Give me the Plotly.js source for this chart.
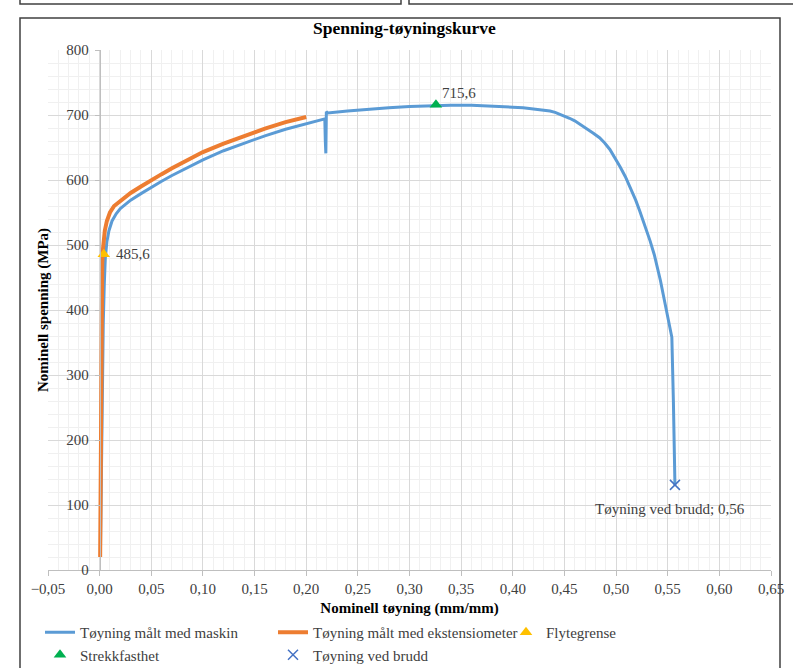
<!DOCTYPE html>
<html>
<head>
<meta charset="utf-8">
<script src="https://cdn.plot.ly/plotly-3.0.1.min.js"></script>
<style>html,body{margin:0;padding:0;background:#fff;}</style>
</head>
<body>
<div id="chart" style="width:793px;height:668px;"></div>
<script>
// ---- Data ----
const machineStrain = [0.0008, 0.0015, 0.0025, 0.0035, 0.0045, 0.0055, 0.007, 0.009, 0.012, 0.016, 0.02, 0.03, 0.04, 0.05, 0.06, 0.07, 0.08, 0.09, 0.10, 0.12, 0.14, 0.16, 0.18, 0.20, 0.218, 0.2185, 0.219, 0.2195, 0.221, 0.24, 0.26, 0.28, 0.30, 0.32, 0.34, 0.36, 0.38, 0.40, 0.41, 0.42, 0.428, 0.436, 0.441, 0.446, 0.451, 0.455, 0.460, 0.464, 0.468, 0.472, 0.478, 0.484, 0.489, 0.494, 0.499, 0.504, 0.509, 0.514, 0.519, 0.523, 0.528, 0.533, 0.537, 0.540, 0.543, 0.5455, 0.548, 0.550, 0.552, 0.554, 0.5555, 0.5565, 0.557];
const machineStress = [30, 150, 280, 380, 440, 480, 505, 522, 537, 548, 556, 569, 579, 589, 598, 607, 615, 623, 631, 645, 657, 668, 678, 687, 694, 660, 641, 705, 703, 706, 709, 711, 713, 714.5, 715, 715, 714, 712, 711, 709, 708, 706, 704, 701, 698, 695, 691, 687, 683, 678, 672, 665, 657, 647, 634, 620, 605, 588, 569, 552, 530, 506, 485, 466, 445, 425, 404, 390, 375, 358, 260, 190, 131];

const extStrain = [0.0005, 0.0008, 0.0012, 0.0016, 0.002, 0.0025, 0.003, 0.004, 0.005, 0.007, 0.01, 0.014, 0.02, 0.03, 0.04, 0.05, 0.06, 0.07, 0.08, 0.09, 0.10, 0.12, 0.14, 0.16, 0.18, 0.20];
const extStress = [20, 120, 250, 360, 430, 470, 490, 510, 522, 537, 550, 560, 568, 580, 590, 600, 609, 618, 626, 635, 643, 656, 668, 679, 689, 697];

const yieldStrain = [0.004];
const yieldStress = [485.6];
const tensileStrain = [0.3256];
const tensileStress = [715.6];
const fractureStrain = [0.557];
const fractureStress = [131];

const seriesNames = ['Tøyning målt med maskin', 'Tøyning målt med ekstensiometer', 'Flytegrense', 'Strekkfasthet', 'Tøyning ved brudd'];

// ---- Helpers for layout-only positions (pixels -> paper) ----
const ML = 48, MR = 22, MT = 50, MB = 98, W = 793, H = 668;
const PW = W - ML - MR, PH = H - MT - MB;
const px = v => (v - ML) / PW;
const py = v => (H - MB - v) / PH;

const FONT = 'Liberation Serif, DejaVu Serif, serif';
const TXT = '#404040';
const fmt = v => v.toFixed(1).replace('.', ',');
const fmt2 = v => v.toFixed(2).replace('.', ',');

const traces = [
  {x: machineStrain, y: machineStress, mode: 'lines', name: seriesNames[0],
   line: {color: '#5B9BD5', width: 3}},
  {x: extStrain, y: extStress, mode: 'lines', name: seriesNames[1],
   line: {color: '#ED7D31', width: 4}},
  {x: yieldStrain, y: yieldStress, mode: 'markers', name: seriesNames[2],
   marker: {symbol: 'triangle-up', color: '#FFC000', size: 11}},
  {x: tensileStrain, y: tensileStress, mode: 'markers', name: seriesNames[3],
   marker: {symbol: 'triangle-up', color: '#00B050', size: 11}},
  {x: fractureStrain, y: fractureStress, mode: 'markers', name: seriesNames[4],
   marker: {symbol: 'x-thin', size: 10, line: {color: '#4472C4', width: 1.5}}}
];

const labelFont = {family: FONT, size: 15, color: TXT};
const annotations = [
  {x: yieldStrain[0], y: yieldStress[0], xref: 'x', yref: 'y', text: fmt(yieldStress[0]),
   showarrow: false, xanchor: 'left', yanchor: 'middle', xshift: 10, font: labelFont},
  {x: tensileStrain[0], y: tensileStress[0], xref: 'x', yref: 'y', text: fmt(tensileStress[0]),
   showarrow: false, xanchor: 'left', yanchor: 'bottom', xshift: 4, yshift: 2, font: labelFont},
  {x: fractureStrain[0], y: fractureStress[0], xref: 'x', yref: 'y', text: 'Tøyning ved brudd; ' + fmt2(fractureStrain[0]),
   showarrow: false, xanchor: 'center', yanchor: 'middle', xshift: -5, yshift: -24, font: labelFont}
];

const layout = {
  width: W, height: H,
  margin: {l: ML, r: MR, t: MT, b: MB, autoexpand: false},
  paper_bgcolor: '#ffffff', plot_bgcolor: '#ffffff',
  separators: ', ',
  font: {family: FONT, size: 15, color: TXT},
  title: {text: '<b>Spenning-tøyningskurve</b>', x: 0.51, xanchor: 'center', y: 1 - 28 / H, yanchor: 'middle',
          font: {family: FONT, size: 17.5, color: '#000000'}},
  showlegend: true,
  legend: {orientation: 'h', x: px(40), xanchor: 'left', y: py(616), yanchor: 'top',
           entrywidth: 188, entrywidthmode: 'pixels', traceorder: 'normal', tracegroupgap: 0,
           font: {family: FONT, size: 15, color: TXT}, bgcolor: 'rgba(0,0,0,0)'},
  annotations: annotations,
  xaxis: {
    range: [-0.05, 0.65], dtick: 0.05, tick0: 0, tickformat: '.2f',
    showgrid: true, gridcolor: '#d9d9d9', gridwidth: 1,
    minor: {dtick: 0.01, tick0: 0, showgrid: true, gridcolor: '#f0f0f0', gridwidth: 1},
    zeroline: false, showline: true, linecolor: '#bfbfbf', linewidth: 1,
    ticks: 'outside', ticklen: 5, tickcolor: '#bfbfbf',
    tickfont: {family: FONT, size: 15, color: TXT},
    title: {text: '<b>Nominell tøyning (mm/mm)</b>', font: {family: FONT, size: 15, color: '#000000'}, standoff: 6}
  },
  yaxis: {
    range: [0, 800], dtick: 100, tick0: 0,
    anchor: 'free', position: 0.05 / 0.70,
    showgrid: true, gridcolor: '#d9d9d9', gridwidth: 1,
    minor: {dtick: 20, tick0: 0, showgrid: true, gridcolor: '#f0f0f0', gridwidth: 1},
    zeroline: false, showline: true, linecolor: '#bfbfbf', linewidth: 1,
    ticks: 'outside', ticklen: 5, tickcolor: '#bfbfbf', ticklabelstandoff: 3,
    tickfont: {family: FONT, size: 15, color: TXT},
    title: {text: '<b>Nominell spenning (MPa)</b>', font: {family: FONT, size: 15, color: '#000000'}, standoff: 12}
  },
  shapes: [
    {type: 'rect', xref: 'paper', yref: 'paper', x0: px(20), x1: px(780), y0: py(690), y1: py(18),
     line: {color: '#404040', width: 1.5}, fillcolor: 'rgba(0,0,0,0)', layer: 'above'},
    {type: 'rect', xref: 'paper', yref: 'paper', x0: px(20), x1: px(401), y0: py(4), y1: py(-20),
     line: {color: '#404040', width: 1.5}, fillcolor: 'rgba(0,0,0,0)', layer: 'above'},
    {type: 'rect', xref: 'paper', yref: 'paper', x0: px(409), x1: px(800), y0: py(4), y1: py(-20),
     line: {color: '#404040', width: 1.5}, fillcolor: 'rgba(0,0,0,0)', layer: 'above'}
  ]
};

Plotly.newPlot('chart', traces, layout, {displayModeBar: false, staticPlot: true});
</script>
</body>
</html>
